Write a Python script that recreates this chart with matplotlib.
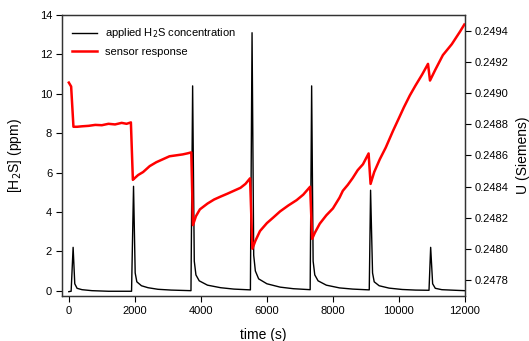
"""
Respuesta de un sensor de H2S frente a pulsos de concentracion.
"""

import matplotlib
matplotlib.use('Agg')
import matplotlib.pyplot as plt

# concentracion aplicada de H2S (ppm)
t_h2s = [0, 70, 130, 180, 250, 400, 700, 1200, 1900,
         1960, 2010, 2060, 2200, 2400, 2700, 3100, 3700,
         3750, 3800, 3850, 3950, 4200, 4600, 5000, 5500,
         5550, 5600, 5650, 5750, 6000, 6400, 6800, 7310,
         7355, 7400, 7450, 7550, 7800, 8200, 8600, 9100,
         9140, 9200, 9250, 9400, 9700, 10100, 10500, 10910,
         10960, 11020, 11100, 11300, 11700, 12000]
h2s = [-0.05, -0.03, 2.2, 0.35, 0.12, 0.05, 0.0, -0.03, -0.03,
       5.3, 0.9, 0.45, 0.25, 0.15, 0.07, 0.03, 0.0,
       10.4, 1.5, 0.8, 0.5, 0.28, 0.15, 0.08, 0.04,
       13.1, 1.8, 1.0, 0.6, 0.35, 0.18, 0.1, 0.05,
       10.4, 1.5, 0.8, 0.5, 0.28, 0.14, 0.08, 0.04,
       5.1, 0.9, 0.45, 0.25, 0.13, 0.06, 0.03, 0.02,
       2.2, 0.35, 0.12, 0.05, 0.02, 0.0]

# respuesta del sensor (Siemens)
t_sens = [0, 70, 140, 250, 400, 600, 800, 1000, 1200, 1400, 1600, 1750, 1880,
          1940, 2000, 2100, 2250, 2450, 2650, 2850, 3050, 3250, 3450, 3600, 3710,
          3760, 3850, 3970, 4200, 4400, 4600, 4800, 5000, 5200, 5350, 5490,
          5560, 5650, 5790, 6000, 6200, 6400, 6650, 6900, 7100, 7310,
          7370, 7450, 7600, 7800, 8000, 8200, 8300, 8450, 8600, 8750, 8910, 9080,
          9140, 9250, 9420, 9600, 9820, 10000, 10150, 10330, 10500, 10700, 10880,
          10940, 11100, 11330, 11600, 11850, 11980]
sens = [0.249067, 0.249042, 0.248784, 0.248784, 0.248787, 0.248790, 0.248796,
        0.248794, 0.248803, 0.248799, 0.248809, 0.248803, 0.248812,
        0.248444, 0.248456, 0.248475, 0.248494, 0.248532, 0.248557, 0.248576,
        0.248595, 0.248601, 0.248607, 0.248614, 0.248620,
        0.248154, 0.248211, 0.248255, 0.248292, 0.248318, 0.248337, 0.248355,
        0.248374, 0.248393, 0.248418, 0.248454,
        0.248003, 0.248053, 0.248116, 0.248167, 0.248204, 0.248242, 0.248280,
        0.248314, 0.248349, 0.248400,
        0.248066, 0.248104, 0.248163, 0.248217, 0.248261, 0.248330, 0.248374,
        0.248412, 0.248456, 0.248506, 0.248544, 0.248613,
        0.248418, 0.248494, 0.248576, 0.248651, 0.248758, 0.248840, 0.248909,
        0.248985, 0.249048, 0.249118, 0.249187,
        0.249080, 0.249149, 0.249243, 0.249313, 0.249394, 0.249439]

x_ticks = [0, 2000, 4000, 6000, 8000, 10000, 12000]
y_ticks = [0, 2, 4, 6, 8, 10, 12, 14]
u_ticks = [0.2478, 0.2480, 0.2482, 0.2484, 0.2486, 0.2488, 0.2490, 0.2492, 0.2494]

plt.rcParams['font.family'] = ['Liberation Sans', 'DejaVu Sans']
plt.rcParams['font.size'] = 8

fig = plt.figure(figsize=(5.29, 3.41), dpi=100)
ax = fig.add_axes([0.117, 0.132, 0.762, 0.824])
ax2 = ax.twinx()

l1, = ax.plot(t_h2s, h2s, color='black', lw=1.0)
l2, = ax2.plot(t_sens, sens, color='#ff0000', lw=1.8)

ax.set_xlim(-210, 12000)
ax.set_ylim(-0.27, 14)
ax2.set_ylim(0.24770, 0.24950)

ax.set_xticks(x_ticks)
ax.set_yticks(y_ticks)
ax2.set_yticks(u_ticks)
ax2.set_yticklabels(['%.4f' % u for u in u_ticks])

for a in (ax, ax2):
    a.tick_params(direction='out', length=4, width=0.8, labelsize=8, pad=3)
    for s in a.spines.values():
        s.set_color('#333333')
        s.set_linewidth(0.9)

ax.set_xlabel('time (s)', fontsize=10, labelpad=9)
ax.set_ylabel('[H$_2$S] (ppm)', fontsize=10, labelpad=11)
ax2.set_ylabel('U (Siemens)', fontsize=10, labelpad=5)

ax2.legend([l1, l2], ['applied H$_2$S concentration', 'sensor response'],
           loc='upper left', bbox_to_anchor=(0.0, 0.995), frameon=False,
           fontsize=8, handlelength=2.3, handletextpad=0.7, labelspacing=0.6)

plt.savefig('out.png', dpi=100)
